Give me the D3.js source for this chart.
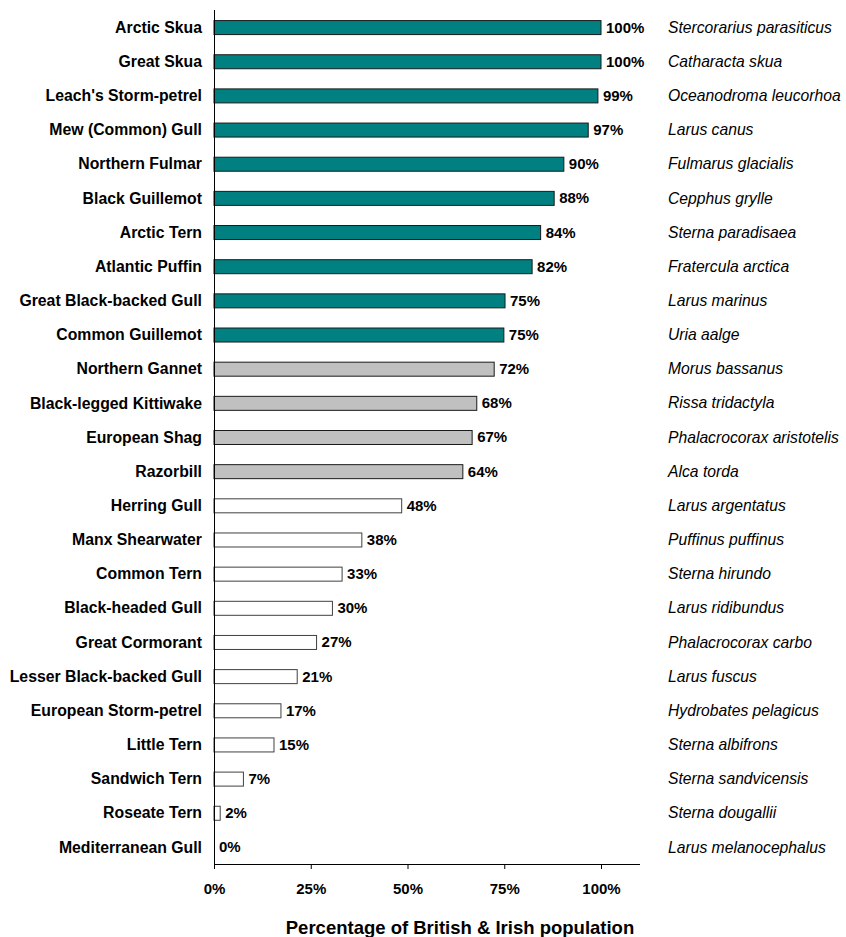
<!DOCTYPE html>
<html><head><meta charset="utf-8">
<script src="https://cdn.jsdelivr.net/npm/d3@7"></script>
<style>body{margin:0;background:#fff}svg{display:block}text{font-family:Arial,"Liberation Sans",sans-serif}</style>
</head><body>
<script>
const categories = ["Arctic Skua","Great Skua","Leach's Storm-petrel","Mew (Common) Gull","Northern Fulmar","Black Guillemot","Arctic Tern","Atlantic Puffin","Great Black-backed Gull","Common Guillemot","Northern Gannet","Black-legged Kittiwake","European Shag","Razorbill","Herring Gull","Manx Shearwater","Common Tern","Black-headed Gull","Great Cormorant","Lesser Black-backed Gull","European Storm-petrel","Little Tern","Sandwich Tern","Roseate Tern","Mediterranean Gull"];
const species = ["Stercorarius parasiticus","Catharacta skua","Oceanodroma leucorhoa","Larus canus","Fulmarus glacialis","Cepphus grylle","Sterna paradisaea","Fratercula arctica","Larus marinus","Uria aalge","Morus bassanus","Rissa tridactyla","Phalacrocorax aristotelis","Alca torda","Larus argentatus","Puffinus puffinus","Sterna hirundo","Larus ridibundus","Phalacrocorax carbo","Larus fuscus","Hydrobates pelagicus","Sterna albifrons","Sterna sandvicensis","Sterna dougallii","Larus melanocephalus"];
const values = [100,100,99.2,96.7,90.4,87.9,84.4,82.2,75.2,74.9,72.4,67.9,66.7,64.3,48.5,38.2,33.1,30.6,26.5,21.5,17.3,15.5,7.6,1.6,0];
const labels = ["100%","100%","99%","97%","90%","88%","84%","82%","75%","75%","72%","68%","67%","64%","48%","38%","33%","30%","27%","21%","17%","15%","7%","2%","0%"];
const groups = ["teal","teal","teal","teal","teal","teal","teal","teal","teal","teal","grey","grey","grey","grey","white","white","white","white","white","white","white","white","white","white","white"];
const ticks = [0,25,50,75,100];

const W=846,H=937;
const svg=d3.select("body").append("svg").attr("width",W).attr("height",H);
const x=d3.scaleLinear().domain([0,100]).range([214,601]);
const y=d3.scaleBand().domain(categories).range([10,864]).paddingInner(0.59).paddingOuter(0.295);
const fill={teal:"#008080",grey:"#C0C0C0",white:"#FFFFFF"};
const stroke={teal:"#1a1a1a",grey:"#1a1a1a",white:"#404040"};

const rows=svg.append("g").selectAll("g").data(categories).join("g");
rows.append("rect")
  .attr("x",x(0)).attr("y",(d)=>y(d)+0.5)
  .attr("width",(d,i)=>Math.max(0,x(values[i])-x(0)))
  .attr("height",y.bandwidth())
  .attr("fill",(d,i)=>fill[groups[i]])
  .attr("stroke",(d,i)=>values[i]>0?stroke[groups[i]]:"none")
  .attr("stroke-width",1);
rows.append("text")
  .attr("x",(d,i)=>x(values[i])+5).attr("y",d=>y(d)+y.bandwidth()/2+1.5)
  .attr("dominant-baseline","middle")
  .attr("font-size",15).attr("font-weight","bold").attr("fill","#000")
  .text((d,i)=>labels[i]);
rows.append("text")
  .attr("x",202).attr("y",d=>y(d)+y.bandwidth()/2+1.5)
  .attr("dominant-baseline","middle").attr("text-anchor","end")
  .attr("font-size",15.8).attr("font-weight","bold").attr("fill","#000")
  .text(d=>d);
rows.append("text")
  .attr("x",668).attr("y",d=>y(d)+y.bandwidth()/2+1.5)
  .attr("dominant-baseline","middle")
  .attr("font-size",15.7).attr("font-style","italic").attr("fill","#000")
  .text((d,i)=>species[i]);

// y axis line
svg.append("line").attr("x1",214.5).attr("x2",214.5).attr("y1",10).attr("y2",864).attr("stroke","#000");
// x axis
const xAxis=d3.axisBottom(x).tickValues(ticks).tickFormat(d=>d+"%").tickSize(5).tickSizeOuter(0).tickPadding(14);
const ga=svg.append("g").attr("transform","translate(0,864)").call(xAxis);
ga.select(".domain").remove();
ga.append("line").attr("x1",214).attr("x2",640).attr("y1",0.5).attr("y2",0.5).attr("stroke","#000");
ga.selectAll(".tick line").attr("stroke","#000");
ga.selectAll(".tick text").attr("font-size",15).attr("font-weight","bold").attr("fill","#000").attr("font-family","Arial, 'Liberation Sans', sans-serif");

svg.append("text").attr("x",460).attr("y",934).attr("text-anchor","middle")
  .attr("font-size",18.5).attr("font-weight","bold").text("Percentage of British & Irish population");
</script>
</body></html>
